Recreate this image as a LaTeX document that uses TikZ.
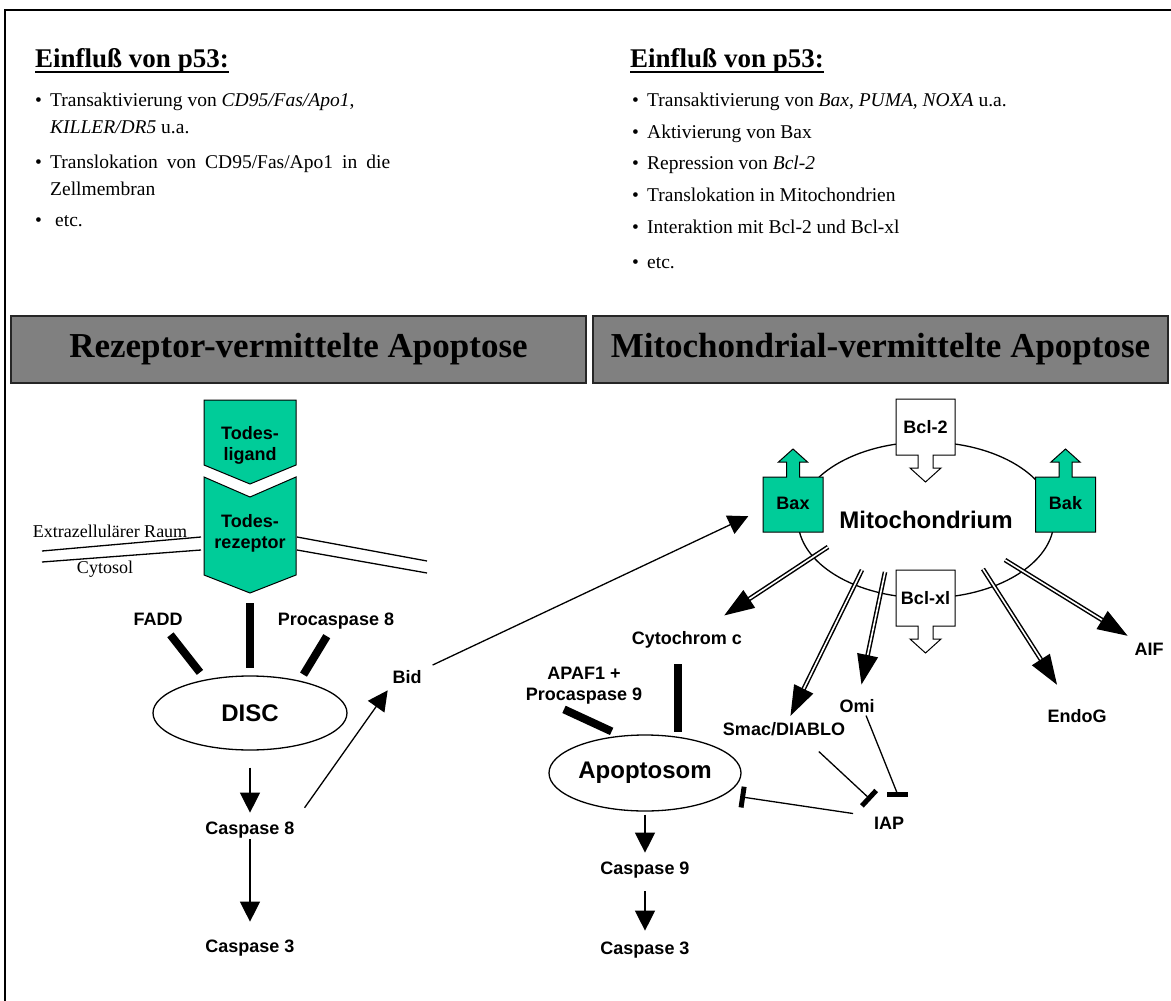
\documentclass[tikz,border=0pt]{standalone}
\usepackage{fontspec}
\setmainfont{Liberation Serif}
\newfontfamily\arialfont{Liberation Sans}
\usetikzlibrary{arrows.meta,shapes.geometric}
\definecolor{todesgruen}{RGB}{0,204,153}
\definecolor{kopfgrau}{RGB}{128,128,128}
\newcommand{\pkt}{\makebox[15pt][l]{\textbullet}}
\begin{document}
\begin{tikzpicture}[x=1pt,y=-1pt,
    lab/.style={font=\arialfont\bfseries\fontsize{18}{21}\selectfont,align=center,inner sep=0pt},
    grosslab/.style={font=\arialfont\bfseries\fontsize{24}{26}\selectfont,inner sep=0pt},
    zeile/.style={anchor=base west,inner sep=0pt,font=\fontsize{19.5}{22}\selectfont},
    titel/.style={anchor=base west,inner sep=0pt,font=\bfseries\fontsize{27}{30}\selectfont},
    kopf/.style={draw=black!85,line width=1.5pt,fill=kopfgrau,minimum width=575pt,minimum height=67pt,font=\bfseries\fontsize{35}{38}\selectfont},
    oval/.style={draw,line width=1.3pt,ellipse},
    gruen/.style={draw,line width=1pt,fill=todesgruen},
    weiss/.style={draw,line width=1pt,fill=white},
    mtext/.style={inner sep=0pt,font=\fontsize{18}{20}\selectfont},
    membran/.style={line width=1.3pt},
    pfeil/.style={line width=1.3pt,-{Triangle[length=20pt,width=20pt]}},
    doppelpfeil/.style={double,double distance=1.6pt,line width=1.5pt,-{Triangle[length=30pt,width=21pt]}},
    balken/.style={line width=8pt},
    hemm/.style={line width=1.3pt,-{Bar[width=21pt,line width=5pt]}}]
\useasboundingbox (0,0) rectangle (1171,1001);
\draw[line width=1.5pt] (5,1001) -- (5,10) -- (1171,10);

\node[titel] (titelL) at (35,67) {Einfluß von p53:};
\draw[line width=1.8pt] ([yshift=-5pt]titelL.base west) -- ([yshift=-5pt]titelL.base east);
\node[zeile] (l1) at (35,106) {\pkt Transaktivierung von \textit{CD95/Fas/Apo1},};
\node[zeile] (l1b) at (50,133) {\textit{KILLER/DR5} u.a.};
\node[zeile] (l2) at (35,168) {\pkt\makebox[340pt][s]{Translokation von CD95/Fas/Apo1 in die}};
\node[zeile] (l2b) at (50,195) {Zellmembran};
\node[zeile] (l3) at (35,226) {\makebox[20pt][l]{\textbullet}etc.};

\node[titel] (titelR) at (630,67) {Einfluß von p53:};
\draw[line width=1.8pt] ([yshift=-5pt]titelR.base west) -- ([yshift=-5pt]titelR.base east);
\node[zeile] (r1) at (632,106) {\pkt Transaktivierung von \textit{Bax}, \textit{PUMA}, \textit{NOXA} u.a.};
\node[zeile] (r2) at (632,138) {\pkt Aktivierung von Bax};
\node[zeile] (r3) at (632,169) {\pkt Repression von \textit{Bcl-2}};
\node[zeile] (r4) at (632,201) {\pkt Translokation in Mitochondrien};
\node[zeile] (r5) at (632,233) {\pkt Interaktion mit Bcl-2 und Bcl-xl};
\node[zeile] (r6) at (632,268) {\pkt etc.};

\node[kopf] (kopfL) at (298.5,349.5) {Rezeptor-vermittelte Apoptose};
\node[kopf] (kopfR) at (880.5,349.5) {Mitochondrial-vermittelte Apoptose};

\draw[gruen] (204,400) -- (296,400) -- (296,465) -- (250,484) -- (204,465) -- cycle;
\draw[gruen] (204,477) -- (250,497) -- (296,477) -- (296,575) -- (250,593) -- (204,575) -- cycle;
\node[lab] (ligand) at (250,445) {Todes-\\ligand};
\node[lab] (rezeptor) at (250,533) {Todes-\\rezeptor};
\coordinate (rezspitze) at (250,593);
\draw[membran] (42,551) -- (201,537);
\draw[membran] (42,562) -- (201,550);
\draw[membran] (297,537) -- (427,561);
\draw[membran] (297,550) -- (427,573);
\node[mtext] (extra) at (110,531) {Extrazellulärer Raum};
\node[mtext] (cytosol) at (105,569) {Cytosol};

\node[oval,grosslab,minimum width=194pt,minimum height=74pt] (disc) at (250,713) {DISC};
\node[lab] (fadd) at (158,619) {FADD};
\node[lab] (prc8) at (336,621) {Procaspase 8};
\node[lab] (bid) at (407,677) {Bid};
\node[lab] (casp8) at (250,830) {Caspase 8};
\node[lab] (casp3L) at (250,948) {Caspase 3};
\draw[balken,shorten <=10pt,shorten >=7pt] (rezspitze) -- (disc.north);
\draw[balken,shorten <=12pt,shorten >=9pt] (fadd) -- (disc.143);
\draw[balken,shorten <=8pt,shorten >=7pt] (prc8) -- (disc.33);
\draw[pfeil,shorten <=17pt,shorten >=9pt] (disc) -- (casp8);
\draw[pfeil,shorten <=1pt,shorten >=18pt] (casp8) -- (casp3L);
\draw[pfeil,shorten <=17pt,shorten >=8pt] (casp8.north east) -- (bid.south west);

\node[oval,grosslab,minimum width=256pt,minimum height=156pt] (mito) at (926,520) {Mitochondrium};
\foreach \x/\txt/\nm in {793/Bax/bax,1065.5/Bak/bak} {
  \draw[gruen] (\x-30,532) -- (\x-30,477) -- (\x-6.5,477) -- (\x-6.5,462) -- (\x-14.5,462) -- (\x,449) -- (\x+14.5,462) -- (\x+6.5,462) -- (\x+6.5,477) -- (\x+30,477) -- (\x+30,532) -- cycle;
  \node[lab] (\nm) at (\x,503) {\txt};
}
\foreach \y/\txt/\nm in {399/Bcl-2/bcl2,570/Bcl-xl/bclxl} {
  \draw[weiss] (896,\y) -- (955,\y) -- (955,\y+56) -- (933,\y+56) -- (933,\y+69) -- (941,\y+69) -- (925.5,\y+83) -- (910,\y+69) -- (918,\y+69) -- (918,\y+56) -- (896,\y+56) -- cycle;
  \node[lab] (\nm) at (925.5,\y+28) {\txt};
}
\draw[pfeil,shorten <=12pt,shorten >=31pt] (bid.north east) -- (bax.west);

\coordinate (mCyt) at (828,547);
\coordinate (mSmac) at (862,570);
\coordinate (mOmi) at (885,572);
\coordinate (mEndo) at (983,569);
\coordinate (mAIF) at (1005,560);
\node[lab] (cytc) at (687,640) {Cytochrom c};
\node[lab] (smac) at (784,729) {Smac/DIABLO};
\node[lab] (omi) at (857,706) {Omi};
\node[lab] (endog) at (1077,716) {EndoG};
\node[lab] (aif) at (1149,649) {AIF};
\node[lab] (iap) at (889,823) {IAP};
\draw[doppelpfeil,shorten >=29pt] (mCyt) -- (cytc);
\draw[doppelpfeil,shorten >=7pt] (mSmac) -- (smac);
\draw[doppelpfeil,shorten >=15pt] (mOmi) -- (omi);
\draw[doppelpfeil,shorten >=29pt] (mEndo) -- (endog);
\draw[doppelpfeil,shorten >=13pt] (mAIF) -- (aif);

\node[oval,grosslab,minimum width=192pt,minimum height=76pt] (apopt) at (645,773) {Apoptosom};
\node[lab] (apaf) at (584,686) {APAF1 +\\Procaspase 9};
\node[lab] (casp9) at (645,870) {Caspase 9};
\node[lab] (casp3R) at (645,950) {Caspase 3};
\draw[balken,shorten <=5pt,shorten >=15pt] (apopt.48) -- (apopt.48 |- cytc.south);
\draw[balken,shorten <=11pt,shorten >=10pt] ([xshift=-30pt]apaf.south) -- (apopt.123);
\draw[pfeil,shorten <=3pt,shorten >=9pt] (apopt) -- (casp9);
\draw[pfeil,shorten <=13pt,shorten >=11pt] (casp9) -- (casp3R);
\draw[hemm,shorten <=23pt,shorten >=4pt] ([xshift=18pt]smac.south) -- ([yshift=14pt]iap.north west);
\draw[hemm,shorten <=3pt,shorten >=1pt] ([xshift=8pt]omi.south) to[out=-69,in=90,looseness=0.15] ([xshift=8pt,yshift=19pt]iap.north);
\draw[hemm,shorten <=21pt,shorten >=15pt] (iap.north west) -- (apopt.-15);
\end{tikzpicture}
\end{document}
